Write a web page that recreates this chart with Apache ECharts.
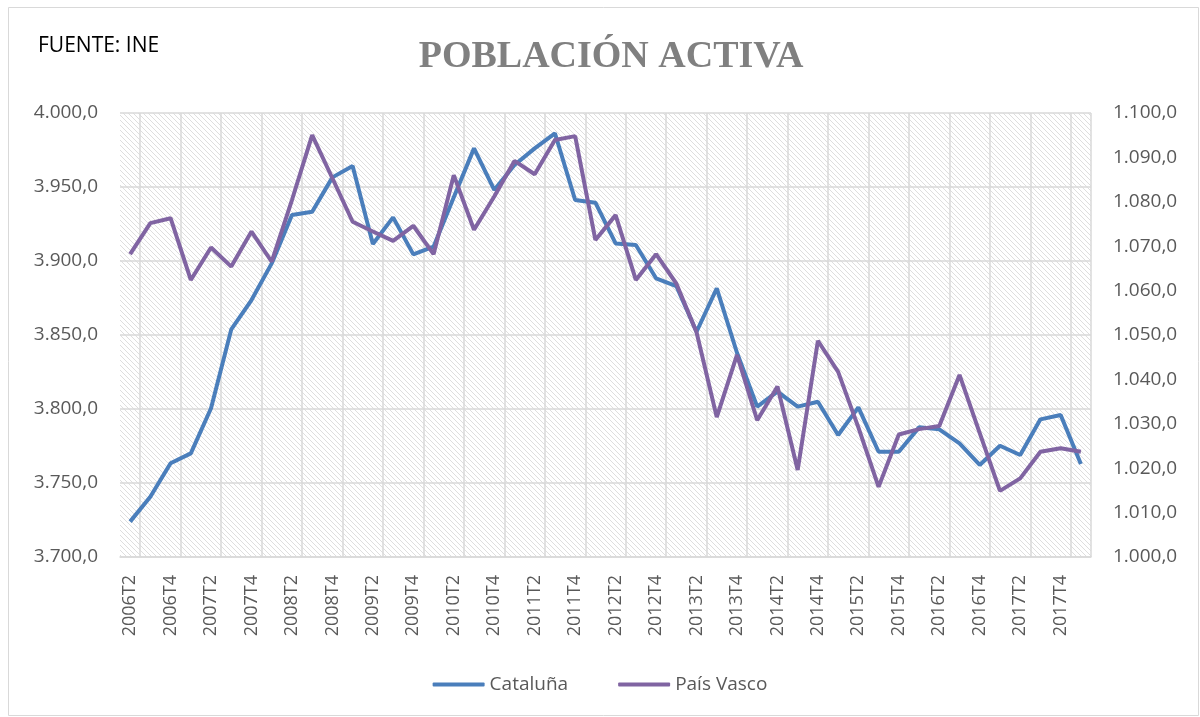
<!DOCTYPE html>
<html>
<head>
<meta charset="utf-8">
<script src="https://cdn.jsdelivr.net/npm/echarts@6/dist/echarts.min.js"></script>
<style>
  html, body { margin: 0; padding: 0; background: #fff; }
  #chart-container { width: 1200px; height: 717px; }
</style>
</head>
<body>
<div id="chart-container"></div>
<script>
// categorias trimestrales 2006T2 .. 2018T1
var categories = [];
for (var y = 2006; y <= 2018; y++) {
  for (var q = 1; q <= 4; q++) {
    if ((y === 2006 && q < 2) || (y === 2018 && q > 1)) continue;
    categories.push(y + 'T' + q);
  }
}

var cataluna = [3723.9, 3740.7, 3763.3, 3770.0, 3800.5, 3853.8, 3873.6, 3898.4,
  3931.1, 3933.3, 3956.5, 3964.2, 3911.5, 3929.5, 3904.5, 3909.7,
  3943.0, 3976.1, 3948.0, 3964.9, 3976.1, 3986.3, 3941.2, 3939.4,
  3911.9, 3910.8, 3888.3, 3883.1, 3852.2, 3881.5, 3838.0, 3801.6,
  3811.7, 3801.6, 3804.9, 3782.4, 3801.1, 3771.1, 3771.1, 3787.6,
  3786.3, 3776.8, 3762.2, 3775.2, 3768.9, 3793.0, 3795.9, 3762.8];

var paisVasco = [1068.2, 1075.2, 1076.3, 1062.4, 1069.7, 1065.4, 1073.3, 1066.5,
  1080.4, 1095.0, 1085.3, 1075.5, 1073.3, 1071.2, 1074.6, 1068.2,
  1086.0, 1073.7, 1081.2, 1089.2, 1086.2, 1093.9, 1094.8, 1071.4,
  1077.0, 1062.4, 1068.2, 1061.6, 1050.6, 1031.5, 1045.5, 1030.8,
  1038.4, 1019.6, 1048.7, 1041.7, 1029.2, 1015.8, 1027.6, 1028.8,
  1029.5, 1041.0, 1027.9, 1014.9, 1017.7, 1023.7, 1024.5, 1023.7];

function fmt(v) {
  var s = v.toFixed(1).split('.');
  return s[0].replace(/\B(?=(\d{3})+(?!\d))/g, '.') + ',' + s[1];
}

// trama diagonal del fondo
var tile = document.createElement('canvas');
tile.width = 5; tile.height = 5;
var ctx = tile.getContext('2d');
ctx.strokeStyle = '#dedede';
ctx.lineWidth = 1;
ctx.beginPath();
ctx.moveTo(-1, -1); ctx.lineTo(6, 6);
ctx.moveTo(-1, 4); ctx.lineTo(1, 6);
ctx.moveTo(4, -1); ctx.lineTo(6, 1);
ctx.stroke();

var dom = document.getElementById('chart-container');
var myChart = echarts.init(dom, null, { renderer: 'canvas' });

var axisText = { color: '#595959', fontFamily: 'Open Sans', fontSize: 19 };

var option = {
  animation: false,
  backgroundColor: '#fff',
  graphic: [
    {
      type: 'rect',
      shape: { x: 8.5, y: 7.5, width: 1190, height: 708 },
      style: { fill: 'none', stroke: '#d9d9d9', lineWidth: 1 },
      z: -1
    },
    {
      type: 'text',
      x: 38, y: 46,
      style: { text: 'FUENTE: INE', fill: '#000', font: '21px "Open Sans"', verticalAlign: 'middle' }
    }
  ],
  title: {
    text: 'POBLACIÓN ACTIVA',
    left: 606, top: 33,
    textAlign: 'center',
    textStyle: { color: '#808080', fontFamily: 'Liberation Serif', fontWeight: 'bold', fontSize: 38 }
  },
  legend: {
    bottom: 18,
    left: 'center',
    icon: 'roundRect',
    itemWidth: 52,
    itemHeight: 4,
    itemGap: 50,
    textStyle: { color: '#595959', fontFamily: 'Open Sans', fontSize: 19 },
    data: ['Cataluña', 'País Vasco']
  },
  grid: {
    left: 120, right: 109, top: 113, bottom: 160,
    show: true,
    borderWidth: 0,
    backgroundColor: { image: tile, repeat: 'repeat' }
  },
  xAxis: {
    type: 'category',
    data: categories,
    boundaryGap: true,
    axisLine: { show: true, lineStyle: { color: '#d9d9d9', width: 1.5 } },
    axisTick: { show: false },
    axisLabel: Object.assign({ interval: 1, rotate: 90, margin: 18 }, axisText, { fontSize: 18 }),
    splitLine: {
      show: true,
      interval: function (i) { return i % 2 === 1; },
      lineStyle: { color: '#d9d9d9', width: 1.5 }
    }
  },
  yAxis: [
    {
      type: 'value',
      min: 3700, max: 4000, interval: 50,
      axisLine: { show: false },
      axisTick: { show: false },
      axisLabel: Object.assign({ margin: 22, formatter: fmt }, axisText),
      splitLine: { show: true, lineStyle: { color: '#d9d9d9', width: 1.5 } }
    },
    {
      type: 'value',
      min: 1000, max: 1100, interval: 10,
      axisLine: { show: false },
      axisTick: { show: false },
      axisLabel: Object.assign({ margin: 22, formatter: fmt }, axisText),
      splitLine: { show: false }
    }
  ],
  series: [
    {
      name: 'Cataluña',
      type: 'line',
      data: cataluna,
      yAxisIndex: 0,
      showSymbol: false,
      symbol: 'none',
      itemStyle: { color: '#4a7ebb' },
      lineStyle: { color: '#4a7ebb', width: 4 }
    },
    {
      name: 'País Vasco',
      type: 'line',
      data: paisVasco,
      yAxisIndex: 1,
      showSymbol: false,
      symbol: 'none',
      itemStyle: { color: '#8064a2' },
      lineStyle: { color: '#8064a2', width: 4 }
    }
  ]
};

myChart.setOption(option);
window.addEventListener('resize', myChart.resize);
</script>
</body>
</html>
